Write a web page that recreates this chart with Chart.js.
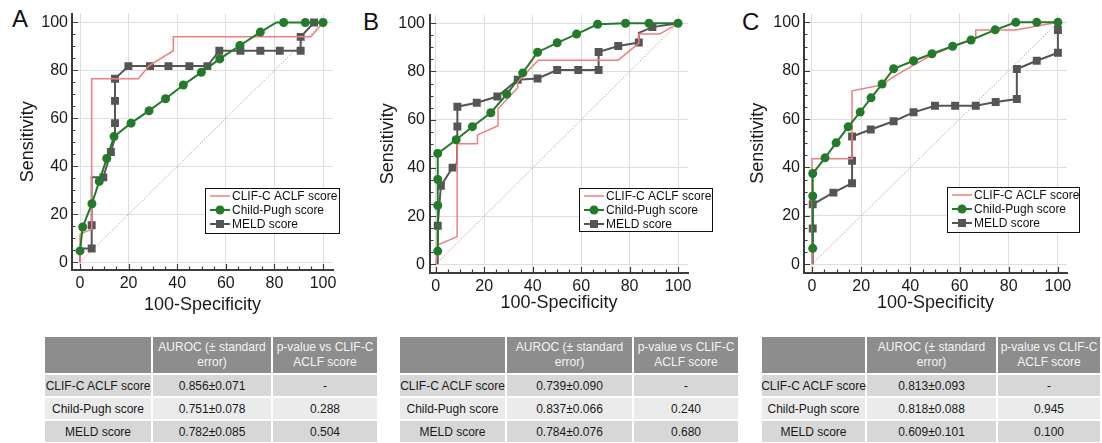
<!DOCTYPE html>
<html>
<head>
<meta charset="utf-8">
<script src="https://cdn.jsdelivr.net/npm/chart.js@4.4.0/dist/chart.umd.min.js"></script>
<style>
  html, body { margin: 0; padding: 0; background: #fff; }
  #fig { position: relative; width: 1102px; height: 443px; overflow: hidden; font-family: 'Liberation Sans', Arial, Helvetica, sans-serif; }
  .letter { position: absolute; font-size: 24px; line-height: 24px; color: #111; }
  canvas { position: absolute; top: 0; }
  .tbl { position: absolute; top: 337px; display: grid; gap: 2px; background: #fff; }
  .tbl div { display: flex; align-items: center; justify-content: center; text-align: center; font-size: 12px; color: #1a1a1a; white-space: nowrap; }
  .tbl .hd { background: #8d8d8d; color: #f4f4f4; font-size: 12px; line-height: 15px; white-space: normal; }
  .tbl .r0, .tbl .r2 { background: #d7d7d7; }
  .tbl .r1 { background: #ebebeb; }
</style>
</head>
<body>
<div id="fig">
  <div class="letter" style="left:12px; top:7px;">A</div>
  <div class="letter" style="left:363px; top:10px;">B</div>
  <div class="letter" style="left:742px; top:10px;">C</div>
  <canvas id="chartA" width="360" height="320" style="left:0px;"></canvas>
  <canvas id="chartB" width="370" height="320" style="left:360px;"></canvas>
  <canvas id="chartC" width="372" height="320" style="left:730px;"></canvas>
  <div class="tbl" id="tableA" style="left:45px;"></div>
  <div class="tbl" id="tableB" style="left:400px;"></div>
  <div class="tbl" id="tableC" style="left:762px;"></div>
</div>

<script>
/*******************************
* DATA
********************************/
var tickVals = [0, 20, 40, 60, 80, 100];
var seriesNames = ['CLIF-C ACLF score', 'Child-Pugh score', 'MELD score'];

// panel A
var clifA_x = [0, 0, 4.8, 4.8, 24, 28.5, 38.4, 38.4, 95, 100];
var clifA_y = [0, 11.7, 13.7, 76.5, 76.5, 82, 88.2, 94, 94, 100];
var childA_x = [0, 1.1, 4.9, 7.9, 11, 14, 21, 28.4, 35.2, 42.5, 49.9, 57.5, 65.8, 74.2, 80.8, 83.8, 92.7, 100];
var childA_y = [4.7, 14.7, 24.4, 33.7, 43.3, 52.4, 58, 63.2, 68.2, 73.9, 79.2, 84.8, 90.4, 96, 100, 100, 100, 100];
var childA_corner = [14];
var meldA_x = [0, 0, 4.8, 4.8, 4.8, 9.6, 12.7, 14.4, 14.4, 14.4, 14.4, 19.9, 28.8, 36.4, 45, 52.4, 57.3, 66, 74.2, 82.2, 90.8, 90.8, 96.3, 100];
var meldA_y = [0, 5.7, 5.7, 15.4, 35.4, 35.4, 46, 52, 58, 67.3, 76.5, 81.8, 81.8, 81.8, 81.8, 81.8, 88.2, 88.2, 88.2, 88.2, 88.2, 94, 100, 100];
var meldA_corner = [0, 1, 4, 7, 23];

// panel B
var clifB_x = [0, 0.8, 8.8, 8.8, 17.2, 17.2, 25.7, 25.7, 33.8, 33.8, 42.3, 75.3, 83.8, 83.8, 92.4, 100];
var clifB_y = [0, 8, 11.5, 50, 50, 53.7, 57.5, 64.5, 73.3, 75.7, 84.7, 84.7, 91.8, 95.5, 95.5, 100];
var childB_x = [0.8, 0.8, 0.8, 0.8, 8.4, 15.1, 22.7, 29.3, 35.9, 42, 50.1, 58.1, 66.8, 78.3, 88, 100];
var childB_y = [5.5, 24.4, 35.2, 46, 51.7, 57.1, 62.9, 70.6, 79.4, 88, 91.9, 95.5, 99.6, 100, 100, 100];
var childB_corner = [];
var meldB_x = [0.8, 0.8, 2.1, 6.9, 8.7, 8.9, 8.9, 16.9, 25.4, 33.8, 42, 50.1, 58.8, 67.2, 67.2, 75.3, 83.8, 83.8, 89.4, 100];
var meldB_y = [0, 16, 32.6, 40.1, 41.8, 57.2, 65.4, 67, 69.6, 76.6, 77.1, 80.6, 80.6, 80.6, 88.1, 90.6, 92, 96, 98.4, 100];
var meldB_corner = [0, 4, 17, 19];

// panel C
var clifC_x = [0, 0, 16.3, 16.3, 28.3, 33.2, 41.3, 48.8, 57.2, 66.6, 66.6, 82.9, 100];
var clifC_y = [0, 43.6, 43.6, 71.7, 74.1, 77.6, 82.3, 86.5, 90, 93.5, 96.8, 96.8, 100];
var childC_x = [0.3, 0.3, 0.3, 5.3, 9.8, 14.7, 19.6, 24, 28.5, 33.2, 41.3, 48.8, 57.2, 64.7, 74.5, 82.9, 91.4, 100];
var childC_y = [6.6, 28.2, 37.5, 44, 50.2, 56.8, 62.9, 68.8, 74.5, 80.8, 84.1, 87, 90.1, 92.7, 96.9, 100, 100, 100];
var childC_corner = [];
var meldC_x = [0.3, 0.3, 0.3, 8.7, 16.3, 16.3, 16.3, 23.9, 33.2, 41.3, 50, 58.2, 66.6, 74.7, 83.3, 83.3, 91.4, 100, 100, 100];
var meldC_y = [0, 14.8, 24.8, 29.6, 33.5, 42.8, 52.8, 55.7, 59.1, 62.8, 65.5, 65.5, 65.5, 67.1, 68.3, 80.7, 84.1, 87.4, 96.8, 100];
var meldC_corner = [0, 19];

// tables
var aurocA = ['0.856±0.071', '0.751±0.078', '0.782±0.085'];
var pvalA = ['-', '0.288', '0.504'];
var aurocB = ['0.739±0.090', '0.837±0.066', '0.784±0.076'];
var pvalB = ['-', '0.240', '0.680'];
var aurocC = ['0.813±0.093', '0.818±0.088', '0.609±0.101'];
var pvalC = ['-', '0.945', '0.100'];

(function(){
  /*******************************
  * LOAD
  ********************************/
  window.addEventListener('load', function() {
    app.init();
  })

  var FONT = "'Liberation Sans', Arial, Helvetica, sans-serif";
  var PINK = '#f07f7f', GREEN = '#237a2b', GREY = '#555555';

  function pts(xs, ys) {
    return xs.map(function(x, i){ return { x: x, y: ys[i] }; });
  }

  // radius 0 for corners of the step line (no operating point there)
  function radius(r, corners) {
    return function(c) { return corners.indexOf(c.dataIndex) >= 0 ? 0 : r; };
  }

  /*******************************
  * plugin: inner ticks + legend box
  ********************************/
  var rocFrame = {
    id: 'rocFrame',
    afterDraw: function(chart, args, opts) {
      var ctx = chart.ctx, xs = chart.scales.x, ys = chart.scales.y, a = chart.chartArea;
      ctx.save();
      ctx.strokeStyle = '#3c3c3c';
      ctx.lineWidth = 1.2;
      for (var v = 0; v <= 100; v += 5) {
        var len = v % 20 === 0 ? 6 : 3.5;
        var px = Math.round(xs.getPixelForValue(v)) + 0.5;
        var py = Math.round(ys.getPixelForValue(v)) + 0.5;
        ctx.beginPath();
        ctx.moveTo(px, a.bottom); ctx.lineTo(px, a.bottom - len);
        ctx.moveTo(a.left, py); ctx.lineTo(a.left + len, py);
        ctx.stroke();
      }

      var b = opts.box;
      ctx.fillStyle = '#fff';
      ctx.fillRect(b.x, b.y, b.w, b.h);
      ctx.strokeStyle = '#111';
      ctx.lineWidth = 1;
      ctx.strokeRect(b.x + 0.5, b.y + 0.5, b.w, b.h);

      ctx.font = '12px ' + FONT;
      ctx.textBaseline = 'middle';
      ctx.textAlign = 'left';
      var sets = chart.data.datasets.filter(function(d){ return d.label; });
      sets.forEach(function(d, i) {
        var cy = b.y + 8 + i * 14;
        ctx.strokeStyle = d.borderColor;
        ctx.lineWidth = d.borderWidth;
        ctx.beginPath();
        ctx.moveTo(b.x + 5, cy); ctx.lineTo(b.x + 25, cy);
        ctx.stroke();
        ctx.fillStyle = d.pointBackgroundColor || d.borderColor;
        if (d.pointStyle === 'circle') {
          ctx.beginPath(); ctx.arc(b.x + 15, cy, 4.5, 0, Math.PI * 2); ctx.fill();
        } else if (d.pointStyle === 'rect') {
          ctx.fillRect(b.x + 11, cy - 4, 8, 8);
        }
        ctx.fillStyle = '#111';
        ctx.fillText(d.label, b.x + 27, cy + 0.5);
      });
      ctx.restore();
    }
  };

  var app = {

    /*******************************
    * Initialize charts and tables
    ********************************/
    init: function() {
      app.charts();
      app.tables();
    },

    /*******************************
    * CHARTS
    ********************************/
    charts: function() {
      var panels = [
        { id: 'chartA', xr: [-3.3, 104.1], yr: [-3.25, 103.7], pad: { top: 7, right: 27 }, yW: 72, xH: 50, yTickPad: 4, xTitlePad: 4.2,
          legend: { x: 205, y: 188, w: 134, h: 45 },
          clif: pts(clifA_x, clifA_y), child: pts(childA_x, childA_y), childC: childA_corner, meld: pts(meldA_x, meldA_y), meldC: meldA_corner },
        { id: 'chartB', xr: [-2.4, 104.1], yr: [-3.6, 103.6], pad: { top: 8, right: 42 }, yW: 70, xH: 47, yTickPad: 5, xTitlePad: 6.2,
          legend: { x: 219, y: 188, w: 133, h: 43 },
          clif: pts(clifB_x, clifB_y), child: pts(childB_x, childB_y), childC: childB_corner, meld: pts(meldB_x, meldB_y), meldC: meldB_corner },
        { id: 'chartC', xr: [-3.25, 103.7], yr: [-3.6, 103.6], pad: { top: 8, right: 35 }, yW: 74, xH: 47, yTickPad: 4, xTitlePad: 6.2,
          legend: { x: 217, y: 187, w: 132, h: 45 },
          clif: pts(clifC_x, clifC_y), child: pts(childC_x, childC_y), childC: childC_corner, meld: pts(meldC_x, meldC_y), meldC: meldC_corner }
      ];

      panels.forEach(function(p) {
        new Chart(document.getElementById(p.id), {
          type: 'scatter',
          data: {
            datasets: [
              {
                label: seriesNames[0], data: p.clif, showLine: true, order: 2,
                borderColor: PINK, backgroundColor: PINK, borderWidth: 1.5, pointRadius: 0, pointStyle: false
              },
              {
                label: seriesNames[1], data: p.child, showLine: true, order: 1,
                borderColor: GREEN, backgroundColor: GREEN, pointBackgroundColor: GREEN, borderWidth: 2,
                pointStyle: 'circle', pointRadius: radius(4.5, p.childC), pointBorderWidth: 0, pointHoverRadius: 4.5
              },
              {
                label: seriesNames[2], data: p.meld, showLine: true, order: 3,
                borderColor: GREY, backgroundColor: GREY, pointBackgroundColor: GREY, borderWidth: 2,
                pointStyle: 'rect', pointRadius: radius(5.6, p.meldC), pointBorderWidth: 0, pointHoverRadius: 5.6
              },
              {
                label: '', data: [{ x: 0, y: 0 }, { x: 100, y: 100 }], showLine: true, order: 4,
                borderColor: 'rgba(195,145,145,0.85)', borderWidth: 1, borderDash: [1.5, 1.5], pointRadius: 0
              }
            ]
          },
          options: {
            responsive: false,
            animation: false,
            events: [],
            layout: { padding: { left: 0, top: p.pad.top, right: p.pad.right, bottom: 0 } },
            plugins: {
              legend: { display: false },
              tooltip: { enabled: false },
              rocFrame: { box: p.legend }
            },
            scales: {
              x: {
                type: 'linear', min: p.xr[0], max: p.xr[1],
                afterBuildTicks: function(s) { s.ticks = tickVals.map(function(v){ return { value: v }; }); },
                afterFit: function(s) { s.height = p.xH; },
                grid: { color: '#dedede', lineWidth: 1, drawTicks: false },
                border: { display: true, color: '#3c3c3c', width: 2 },
                ticks: { padding: 4, color: '#1a1a1a', font: { family: FONT, size: 16 }, maxRotation: 0 },
                title: { display: true, text: '100-Specificity', color: '#1a1a1a', font: { family: FONT, size: 18 }, padding: { top: 0, bottom: p.xTitlePad } }
              },
              y: {
                type: 'linear', min: p.yr[0], max: p.yr[1],
                afterBuildTicks: function(s) { s.ticks = tickVals.map(function(v){ return { value: v }; }); },
                afterFit: function(s) { s.width = p.yW; },
                grid: { color: '#dedede', lineWidth: 1, drawTicks: false },
                border: { display: true, color: '#3c3c3c', width: 2 },
                ticks: { padding: p.yTickPad, color: '#1a1a1a', font: { family: FONT, size: 16 } },
                title: { display: true, text: 'Sensitivity', color: '#1a1a1a', font: { family: FONT, size: 18 }, padding: { top: 17.2, bottom: 0 } }
              }
            }
          },
          plugins: [rocFrame]
        });
      });
    },

    /*******************************
    * TABLES
    ********************************/
    tables: function() {
      var defs = [
        { id: 'tableA', cols: [106, 118, 104], auroc: aurocA, pval: pvalA },
        { id: 'tableB', cols: [105, 125, 104], auroc: aurocB, pval: pvalB },
        { id: 'tableC', cols: [103, 129, 102], auroc: aurocC, pval: pvalC }
      ];

      defs.forEach(function(t) {
        var el = document.getElementById(t.id);
        el.style.gridTemplateColumns = t.cols.map(function(c){ return c + 'px'; }).join(' ');
        el.style.gridTemplateRows = '36px 21px 21px 21px';

        var html = '<div class="hd"></div>' +
                   '<div class="hd">AUROC (± standard<br>error)</div>' +
                   '<div class="hd">p-value vs CLIF-C<br>ACLF score</div>';
        seriesNames.forEach(function(name, i) {
          html += '<div class="r' + i + '">' + name + '</div>' +
                  '<div class="r' + i + '">' + t.auroc[i] + '</div>' +
                  '<div class="r' + i + '">' + t.pval[i] + '</div>';
        });
        el.innerHTML = html;
      });
    }
  }

  /*******************************
  * END
  ********************************/
})()
</script>
</body>
</html>
